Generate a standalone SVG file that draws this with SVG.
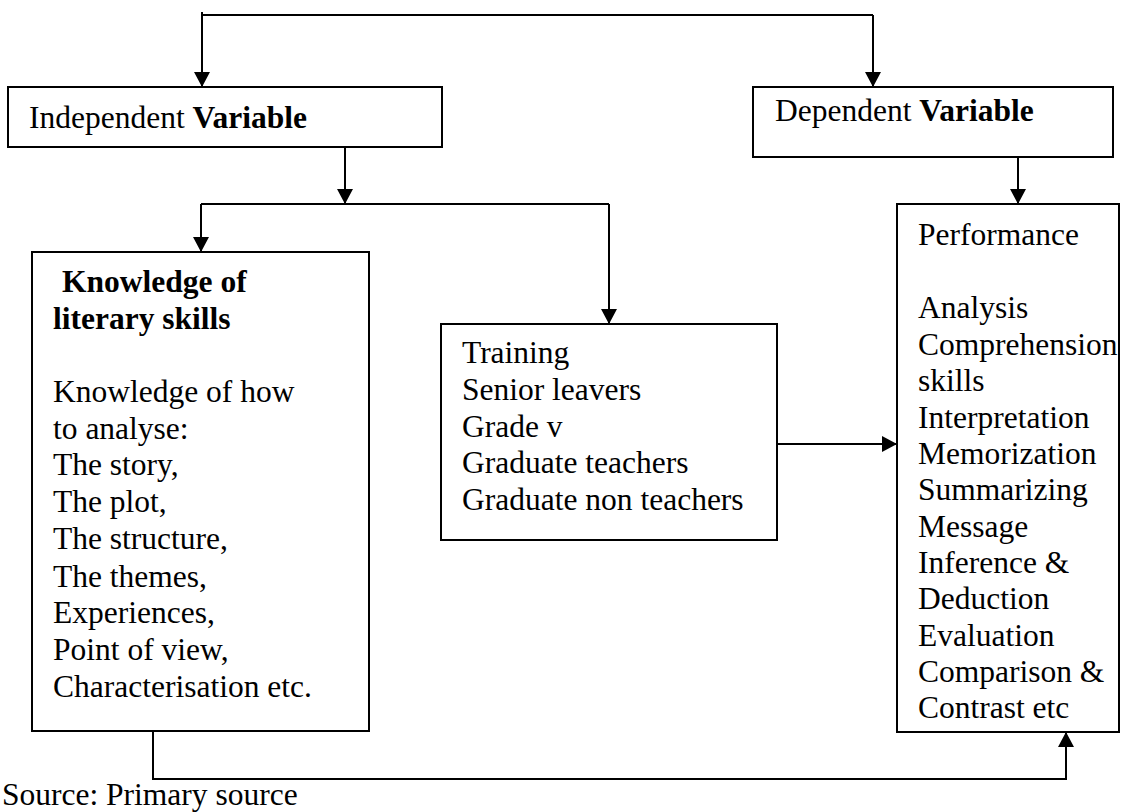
<svg xmlns="http://www.w3.org/2000/svg" width="1148" height="812" viewBox="0 0 1148 812">
<style>
text{font-family:"Liberation Serif","Times New Roman",serif;font-size:31.5px;fill:#000}
.b{font-weight:bold}
.box{fill:#fff;stroke:#000;stroke-width:2}
.ln{fill:none;stroke:#000;stroke-width:2}
</style>
<defs>
<marker id="ah" viewBox="0 0 15 16" refX="15" refY="8" markerWidth="15" markerHeight="16" markerUnits="userSpaceOnUse" orient="auto">
<path d="M0,0 L15,8 L0,16 z" fill="#000"/>
</marker>
<clipPath id="rc"><rect x="897" y="204" width="222" height="518"/></clipPath>
</defs>
<g id="connectors">
<path class="ln" d="M202,15 L873,15"/>
<path class="ln" d="M202,12 L202,87" marker-end="url(#ah)"/>
<path class="ln" d="M873,15 L873,87" marker-end="url(#ah)"/>
<path class="ln" d="M345,147 L345,204" marker-end="url(#ah)"/>
<path class="ln" d="M201,204 L609,204"/>
<path class="ln" d="M201,204 L201,252" marker-end="url(#ah)"/>
<path class="ln" d="M609,204 L609,324" marker-end="url(#ah)"/>
<path class="ln" d="M1018,157 L1018,204" marker-end="url(#ah)"/>
<path class="ln" d="M777,444 L897,444" marker-end="url(#ah)"/>
<path class="ln" d="M153,731 L153,779 L1066,779 L1066,732" marker-end="url(#ah)"/>
</g>
<g id="independent">
<rect class="box" x="8" y="87" width="434" height="60"/>
<text x="29" y="128">Independent <tspan class="b">Variable</tspan></text>
</g>
<g id="dependent">
<rect class="box" x="753" y="87" width="360" height="70"/>
<text x="775" y="121">Dependent <tspan class="b">Variable</tspan></text>
</g>
<g id="knowledge">
<rect class="box" x="32" y="252" width="337" height="479"/>
<text class="b" x="62" y="292">Knowledge of</text>
<text class="b" x="53" y="329">literary skills</text>
<text x="53" y="402">Knowledge of how</text>
<text x="53" y="439">to analyse:</text>
<text x="53" y="475">The story,</text>
<text x="53" y="512">The plot,</text>
<text x="53" y="549">The structure,</text>
<text x="53" y="587">The themes,</text>
<text x="53" y="623">Experiences,</text>
<text x="53" y="660">Point of view,</text>
<text x="53" y="697">Characterisation etc.</text>
</g>
<g id="training">
<rect class="box" x="441" y="324" width="336" height="216"/>
<text x="462" y="363">Training</text>
<text x="462" y="400">Senior leavers</text>
<text x="462" y="437">Grade v</text>
<text x="462" y="473">Graduate teachers</text>
<text x="462" y="510">Graduate non teachers</text>
</g>
<g id="performance">
<rect class="box" x="897" y="204" width="222" height="528"/>
<g clip-path="url(#rc)">
<text x="918" y="245">Performance</text>
<text x="918" y="318">Analysis</text>
<text x="918" y="355">Comprehension</text>
<text x="918" y="391">skills</text>
<text x="918" y="428">Interpretation</text>
<text x="918" y="464">Memorization</text>
<text x="918" y="500">Summarizing</text>
<text x="918" y="537">Message</text>
<text x="918" y="573">Inference &amp;</text>
<text x="918" y="609">Deduction</text>
<text x="918" y="646">Evaluation</text>
<text x="918" y="682">Comparison &amp;</text>
<text x="918" y="718">Contrast etc</text>
</g>
</g>
<text x="2" y="805">Source: Primary source</text>
</svg>
